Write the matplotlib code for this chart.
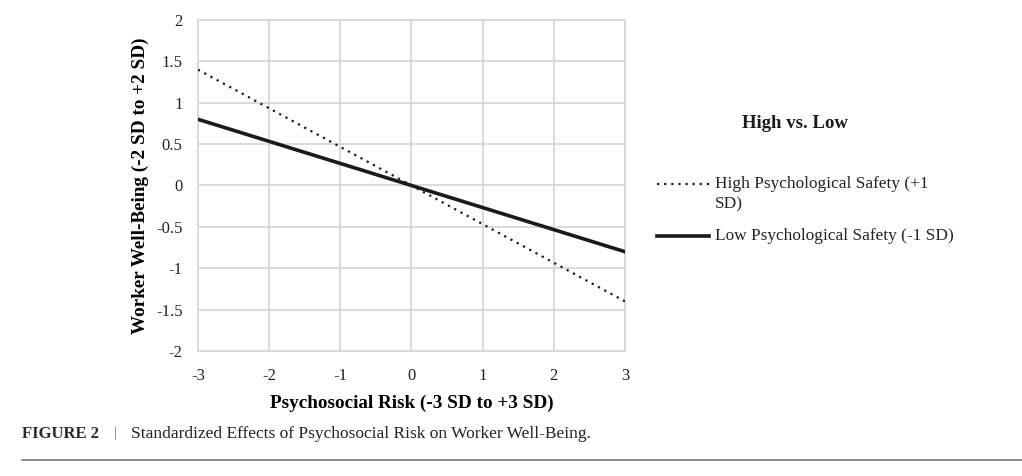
import matplotlib
matplotlib.use("Agg")
import matplotlib.pyplot as plt
from matplotlib.lines import Line2D

plt.rcParams['font.family'] = ['Liberation Serif', 'DejaVu Serif']
plt.rcParams['axes.unicode_minus'] = False

risk = [-3, 3]
high_safety = [1.4, -1.4]
low_safety = [0.8, -0.8]
x_ticks = [-3, -2, -1, 0, 1, 2, 3]
y_ticks = [-2, -1.5, -1, -0.5, 0, 0.5, 1, 1.5, 2]
y_labels = ['-2', '-1.5', '-1', '-0.5', '0', '0.5', '1', '1.5', '2']

fig = plt.figure(figsize=(10.22, 4.76), dpi=100)
ax = fig.add_axes([0.1937, 0.2626, 0.4178, 0.6954])

ax.plot(risk, high_safety, color='#1a1a1a', lw=1.6, linestyle=(0, (1, 2.2)), zorder=3)
ax.plot(risk, low_safety, color='#1a1a1a', lw=2.6, zorder=3)

ax.set_xlim(-3, 3)
ax.set_ylim(-2, 2)
ax.set_xticks(x_ticks)
ax.set_yticks(y_ticks)
ax.set_yticklabels(y_labels)
ax.tick_params(length=0, labelsize=12, colors='#222222')
ax.tick_params(axis='y', pad=11)
ax.tick_params(axis='x', pad=12)
ax.grid(True, color='#d9d9d9', lw=1.4)
for s in ax.spines.values():
    s.set_color('#d9d9d9')
    s.set_linewidth(1.4)

ax.set_xlabel('Psychosocial Risk (-3 SD to +3 SD)', fontsize=13.8, fontweight='bold', labelpad=8)
ax.set_ylabel('Worker Well-Being (-2 SD to +2 SD)', fontsize=13.8, fontweight='bold', labelpad=5)

# legend
fig.text(795 / 1022, 1 - 124 / 476, 'High vs. Low', fontsize=13.5, fontweight='bold',
         ha='center', va='center', color='#1a1a1a')
fig.lines.append(Line2D([657 / 1022, 709 / 1022], [1 - 184 / 476] * 2, transform=fig.transFigure,
                        color='#1a1a1a', lw=1.6, linestyle=(0, (1, 2.2))))
fig.text(715 / 1022, 1 - 184 / 476, 'High Psychological Safety (+1', fontsize=12.4,
         ha='left', va='center', color='#222222')
fig.text(715 / 1022, 1 - 204 / 476, 'SD)', fontsize=12.4, ha='left', va='center', color='#222222')
fig.lines.append(Line2D([657 / 1022, 709 / 1022], [1 - 236 / 476] * 2, transform=fig.transFigure,
                        color='#1a1a1a', lw=2.6))
fig.text(715 / 1022, 1 - 236 / 476, 'Low Psychological Safety (-1 SD)', fontsize=12.4,
         ha='left', va='center', color='#222222')

# caption
fig.text(22 / 1022, 1 - 434 / 476, 'FIGURE 2', fontsize=12, fontweight='bold',
         ha='left', va='center', color='#2a2a2a')
fig.text(114 / 1022, 1 - 434 / 476, '|', fontsize=11, ha='left', va='center', color='#777777')
fig.text(131 / 1022, 1 - 434 / 476, 'Standardized Effects of Psychosocial Risk on Worker Well-Being.',
         fontsize=12.5, ha='left', va='center', color='#222222')
fig.lines.append(Line2D([22 / 1022, 1.0], [1 - 460 / 476] * 2, transform=fig.transFigure,
                        color='#777777', lw=1.2))

fig.savefig('out.png', dpi=100)
